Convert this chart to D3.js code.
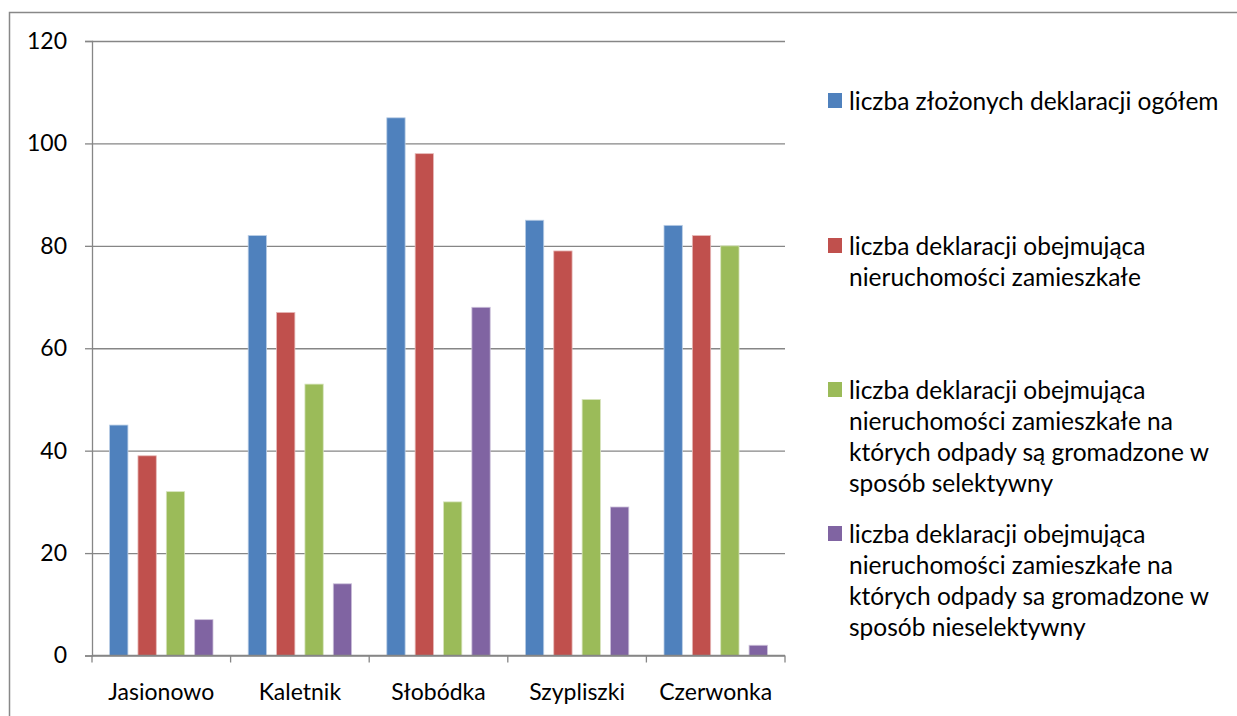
<!DOCTYPE html>
<html lang="pl">
    <head>
        <meta charset="utf-8">
        <title>Deklaracje</title>
        <script src="https://d3js.org/d3.v7.min.js"></script>
        <style type="text/css">
            body { margin: 0; background: #fff; }
            text { font-family: Lato, "Open Sans", sans-serif; fill: #000; }
        </style>
    </head>
    <body>
        <script type="text/javascript">

            //Data
            const villages = ["Jasionowo", "Kaletnik", "Słobódka", "Szypliszki", "Czerwonka"];
            const seriesNames = ["ogolem", "zamieszkale", "selektywnie", "nieselektywnie"];
            const ogolem = [45, 82, 105, 85, 84];
            const zamieszkale = [39, 67, 98, 79, 82];
            const selektywnie = [32, 53, 30, 50, 80];
            const nieselektywnie = [7, 14, 68, 29, 2];
            const yTicks = [0, 20, 40, 60, 80, 100, 120];
            const legendLabels = [
                ["liczba złożonych deklaracji ogółem"],
                ["liczba deklaracji obejmująca", "nieruchomości zamieszkałe"],
                ["liczba deklaracji obejmująca", "nieruchomości zamieszkałe na", "których odpady są gromadzone w", "sposób selektywny"],
                ["liczba deklaracji obejmująca", "nieruchomości zamieszkałe na", "których odpady sa gromadzone w", "sposób nieselektywny"]
            ];

            const seriesValues = [ogolem, zamieszkale, selektywnie, nieselektywnie];
            const data = villages.map((v, i) => ({
                village: v,
                values: seriesNames.map((s, j) => ({ key: s, value: seriesValues[j][i] }))
            }));

            //declare consts
            const w = 1237;
            const h = 716;
            const plotL = 92, plotR = 785, plotT = 41, plotB = 655.5;
            const fontSize = 23;
            const legendFont = 24.5;

            const color = d3.scaleOrdinal()
                .domain(seriesNames)
                .range(["#4F81BD", "#C0504D", "#9BBB59", "#8064A2"]);
            const edge = d3.scaleOrdinal()
                .domain(seriesNames)
                .range(["#B9CDE5", "#E6B9B8", "#D7E4BD", "#CCC1DA"]);

            const x0 = d3.scaleBand().domain(villages).range([plotL, plotR]);
            const pad = 17.6;
            const x1 = d3.scaleBand().domain(seriesNames)
                .range([pad, x0.bandwidth() - pad])
                .paddingInner(0.354);
            const y = d3.scaleLinear().domain([0, 120]).range([plotB, plotT]);

            const svg = d3.select("body")
                .append("svg")
                .attr("width", w)
                .attr("height", h);

            //chart area border
            svg.append("rect")
                .attr("x", 9.5).attr("y", 12.5)
                .attr("width", w + 20).attr("height", h + 20)
                .attr("fill", "none")
                .attr("stroke", "#888")
                .attr("stroke-width", 1.5);

            //gridlines + y axis
            const yAxis = svg.append("g")
                .attr("transform", "translate(" + plotL + ",0)")
                .call(d3.axisLeft(y).tickValues(yTicks).tickSize(7).tickPadding(18));
            yAxis.select(".domain").attr("stroke", "#868686").attr("stroke-width", 1.3);
            yAxis.selectAll(".tick line").attr("stroke", "#868686").attr("stroke-width", 1.3);
            yAxis.selectAll(".tick text").style("font-size", fontSize + "px");
            yAxis.selectAll(".tick").append("line")
                .attr("x1", 0).attr("x2", plotR - plotL)
                .attr("stroke", "#868686").attr("stroke-width", 1.3);

            //bars
            const groups = svg.selectAll("g.grp")
                .data(data)
                .enter()
                .append("g")
                .attr("class", "grp")
                .attr("transform", d => "translate(" + x0(d.village) + ",0)");

            groups.selectAll("rect")
                .data(d => d.values)
                .enter()
                .append("rect")
                .attr("x", d => x1(d.key))
                .attr("width", x1.bandwidth())
                .attr("y", d => y(d.value))
                .attr("height", d => y(0) - y(d.value))
                .attr("fill", d => color(d.key))
                .attr("stroke", d => edge(d.key))
                .attr("stroke-width", 0.8);

            //x axis
            const xAxis = svg.append("g")
                .attr("transform", "translate(0," + plotB + ")");
            xAxis.append("line")
                .attr("x1", plotL).attr("x2", plotR)
                .attr("stroke", "#868686").attr("stroke-width", 1.3);
            const bounds = villages.map(v => x0(v)).concat([plotR]);
            xAxis.selectAll("line.tk")
                .data(bounds)
                .enter()
                .append("line")
                .attr("class", "tk")
                .attr("x1", d => d).attr("x2", d => d)
                .attr("y1", 0).attr("y2", 7)
                .attr("stroke", "#868686").attr("stroke-width", 1.3);
            xAxis.selectAll("text")
                .data(villages)
                .enter()
                .append("text")
                .attr("x", d => x0(d) + x0.bandwidth() / 2)
                .attr("y", 44)
                .attr("text-anchor", "middle")
                .style("font-size", fontSize + "px")
                .text(d => d);

            //legend
            const legendY = [101, 246, 390, 534];
            const lineH = 31.3;
            const legend = svg.selectAll("g.leg")
                .data(legendLabels)
                .enter()
                .append("g")
                .attr("class", "leg")
                .attr("transform", (d, i) => "translate(828," + legendY[i] + ")");

            legend.append("rect")
                .attr("x", 0).attr("y", -8)
                .attr("width", 14).attr("height", 15)
                .attr("fill", (d, i) => color(seriesNames[i]));

            legend.append("text")
                .attr("x", 21)
                .attr("y", 0)
                .style("font-size", legendFont + "px")
                .selectAll("tspan")
                .data(d => d)
                .enter()
                .append("tspan")
                .attr("x", 21)
                .attr("dy", (d, i) => i === 0 ? "0.35em" : lineH)
                .text(d => d);

        </script>
    </body>
</html>
